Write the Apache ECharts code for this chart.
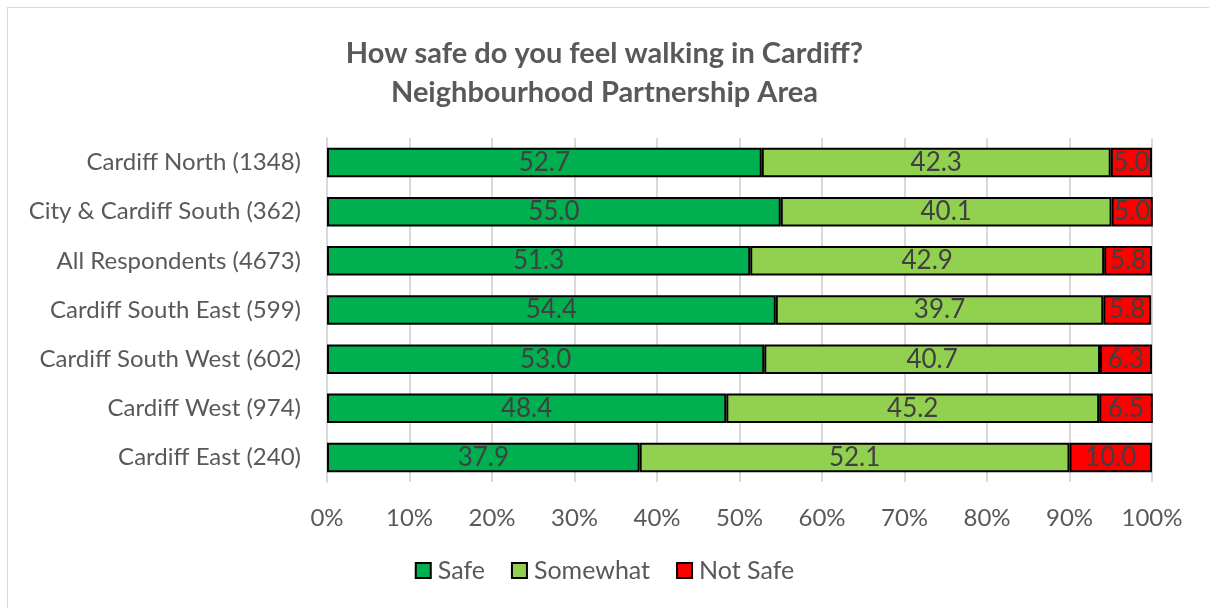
<!DOCTYPE html>
<html>
<head>
<meta charset="utf-8">
<script src="https://cdn.jsdelivr.net/npm/echarts@6/dist/echarts.min.js"></script>
<style>
html, body { margin: 0; padding: 0; background: #fff; }
#frame { position: absolute; left: 7px; top: 7px; width: 1210px; height: 610px; border: 1px solid #d9d9d9; box-sizing: border-box; }
#main { position: absolute; left: 0; top: 0; width: 1209px; height: 608px; }
</style>
</head>
<body>
<div id="frame"></div>
<div id="main"></div>
<script>
// categories, top to bottom
var areas = ['Cardiff North (1348)', 'City & Cardiff South (362)', 'All Respondents (4673)',
    'Cardiff South East (599)', 'Cardiff South West (602)', 'Cardiff West (974)', 'Cardiff East (240)'];
var safe = [52.7, 55.0, 51.3, 54.4, 53.0, 48.4, 37.9];
var somewhat = [42.3, 40.1, 42.9, 39.7, 40.7, 45.2, 52.1];
var notSafe = [5.0, 5.0, 5.8, 5.8, 6.3, 6.5, 10.0];

var FONT = 'Lato, "Open Sans", sans-serif';

var myChart = echarts.init(document.getElementById('main'));

function barSeries(name, data, color) {
    return {
        name: name,
        type: 'bar',
        stack: 'total',
        barCategoryGap: '40%',
        data: data,
        itemStyle: { color: color, borderColor: '#000', borderWidth: 2 },
        label: {
            show: true,
            position: 'inside',
            color: '#404040',
            fontFamily: FONT,
            fontSize: 26,
            formatter: function (p) { return p.value.toFixed(1); }
        }
    };
}

var option = {
    animation: false,
    title: {
        text: 'How safe do you feel walking in Cardiff?\nNeighbourhood Partnership Area',
        left: 'center',
        top: 29,
        textStyle: { color: '#595959', fontFamily: FONT, fontWeight: 'bold', fontSize: 29, lineHeight: 39 }
    },
    legend: {
        bottom: 20,
        left: 'center',
        itemWidth: 15,
        itemHeight: 15,
        itemGap: 26,
        icon: 'rect',
        textStyle: { color: '#595959', fontFamily: FONT, fontSize: 25, padding: [0, 0, 0, 2] },
        data: ['Safe', 'Somewhat', 'Not Safe']
    },
    grid: { left: 327, right: 57, top: 138, bottom: 126 },
    xAxis: {
        type: 'value',
        min: 0,
        max: 100,
        interval: 10,
        axisLabel: { formatter: '{value}%', color: '#595959', fontFamily: FONT, fontSize: 24, margin: 24 },
        axisLine: { show: false },
        axisTick: { show: false },
        splitLine: { lineStyle: { color: '#d9d9d9', width: 2 } }
    },
    yAxis: {
        type: 'category',
        inverse: true,
        data: areas,
        axisLabel: { color: '#595959', fontFamily: FONT, fontSize: 24, margin: 26 },
        axisLine: { lineStyle: { color: '#d9d9d9', width: 2 } },
        axisTick: { show: false }
    },
    series: [
        barSeries('Safe', safe, '#00b050'),
        barSeries('Somewhat', somewhat, '#92d050'),
        barSeries('Not Safe', notSafe, '#ff0000')
    ]
};
myChart.setOption(option);
</script>
</body>
</html>
